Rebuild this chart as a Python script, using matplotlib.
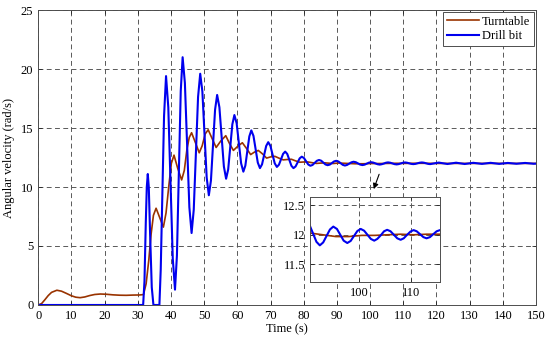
import numpy as np
import matplotlib
matplotlib.use("Agg")
import matplotlib.pyplot as plt

plt.rcParams["font.family"] = "serif"
plt.rcParams["font.serif"] = ["Liberation Serif", "DejaVu Serif"]

# values
turntable_t = [0, 1, 2, 3, 4, 5.6, 7, 8.5, 10, 11.3, 12.6, 14, 15.5, 17, 18.7, 20.5,
               22.5, 24.5, 26.5, 28.5, 30.5, 31.7, 32.5, 33.3, 34.0, 34.7, 35.5,
               36.6, 37.7, 38.5, 39.3, 40.1, 40.9, 42.0, 43.2, 44.0, 44.8, 45.5,
               46.2, 47.3, 48.5, 49.4, 50.3, 51.2, 52.4, 53.6, 55.0, 56.5, 57.6,
               58.8, 60.1, 61.5, 62.8, 64.0, 65.1, 66.3, 67.6, 68.8, 70.0, 71.3,
               72.5, 73.8, 75.0, 76.3, 77.5, 78.8, 80.0, 81.3, 83.8, 86.3, 88.8,
               90.5, 93, 95.5, 98, 100.5, 103, 105.5, 108, 110.5, 113, 115.6, 120,
               130, 140, 150]
turntable_w = [0, 0.12, 0.45, 0.8, 1.07, 1.25, 1.17, 0.98, 0.78, 0.66, 0.62, 0.68,
               0.8, 0.89, 0.93, 0.91, 0.86, 0.83, 0.82, 0.84, 0.85, 0.88, 1.8, 3.8,
               6.0, 7.6, 8.2, 7.4, 6.6, 7.8, 10.0, 12.0, 12.7, 11.6, 10.6, 11.4,
               13.2, 14.2, 14.6, 13.8, 12.9, 13.5, 14.5, 14.85, 14.1, 13.35, 13.9,
               14.35, 13.7, 13.1, 13.45, 13.75, 13.25, 12.75, 12.95, 13.1, 12.8,
               12.45, 12.55, 12.6, 12.45, 12.3, 12.33, 12.35, 12.22, 12.1, 12.12,
               12.12, 12.0, 12.05, 11.99, 12.03, 12.0, 11.97, 11.97, 11.99, 11.99,
               12.0, 12.01, 12.0, 12.01, 12.01, 12.0, 12.0, 12.0, 12.0]

drill_t = [0, 31.6, 32.0, 32.4, 32.7, 33.0, 33.3, 33.7, 34.2, 34.7, 36.5, 36.9,
           37.4, 37.9, 38.5, 39.18, 39.85, 40.53, 41.2, 41.78, 42.35, 42.93, 43.5,
           44.18, 44.85, 45.53, 46.2, 46.85, 47.5, 48.15, 48.8, 49.45, 50.1, 50.75,
           51.4, 52.03, 52.65, 53.28, 53.9, 54.58, 55.25, 55.93, 56.6, 57.23, 57.85,
           58.48, 59.1, 59.78, 60.45, 61.13, 61.8, 62.4, 63.0, 63.6, 64.2, 64.85,
           65.5, 66.15, 66.8, 67.43, 68.05, 68.68, 69.3, 69.95, 70.6, 71.25, 71.9,
           72.53, 73.15, 73.78, 74.4, 75.03, 75.65, 76.28, 76.9, 77.53, 78.15,
           78.78, 79.4, 80.05, 80.7, 81.35, 82.0, 82.65, 83.3, 83.95, 84.6, 85.25,
           85.9, 86.55, 87.2, 87.85, 88.5, 89.15, 89.8, 90.45, 91.1, 91.75, 92.4,
           93.05, 93.7, 94.35, 95.0, 95.7, 96.35, 97.0, 97.7, 98.35, 99.0, 99.65,
           100.3, 100.95, 101.6, 102.25, 102.9, 103.5, 104.15, 104.8, 105.4,
           106.05, 106.7, 107.35, 108.0, 108.6, 109.25, 109.9, 110.5, 111.1,
           111.75, 112.4, 113.0, 113.65, 114.3, 114.95, 115.6, 116.2, 116.85,
           117.5, 118.1, 120.7, 123.3, 125.9, 128.5, 131.1, 133.7, 136.3, 138.9,
           141.5, 144.1, 146.7, 149.3, 150]
drill_w = [0, 0, 2.0, 7.0, 10.0, 11.1, 10.0, 6.0, 1.5, 0, 0, 3.0, 9.5, 16.0, 19.4,
           16.76, 10.35, 3.94, 1.3, 4.18, 11.15, 18.12, 21.0, 18.82, 13.55, 8.28,
           6.1, 8.07, 12.85, 17.63, 19.6, 18.1, 14.45, 10.8, 9.3, 10.54, 13.55,
           16.56, 17.8, 16.76, 14.25, 11.74, 10.7, 11.49, 13.4, 15.31, 16.1, 15.4,
           13.7, 12.0, 11.3, 11.81, 13.05, 14.29, 14.8, 14.33, 13.2, 12.07, 11.6,
           11.92, 12.7, 13.48, 13.8, 13.49, 12.75, 12.01, 11.7, 11.89, 12.35,
           12.81, 13.0, 12.8, 12.3, 11.8, 11.6, 11.74, 12.09, 12.43, 12.57, 12.46,
           12.19, 11.91, 11.8, 11.87, 12.05, 12.22, 12.29, 12.23, 12.07, 11.91,
           11.85, 11.9, 12.035, 12.17, 12.22, 12.16, 12.02, 11.88, 11.82, 11.87,
           11.98, 12.09, 12.14, 12.1, 12.0, 11.9, 11.86, 11.895, 11.98, 12.065,
           12.1, 12.07, 12.0, 11.93, 11.9, 11.93, 11.99, 12.06, 12.085, 12.06,
           12.0, 11.94, 11.915, 11.94, 12.0, 12.055, 12.08, 12.06, 12.01, 11.96,
           11.94, 11.96, 12.01, 12.06, 12.08, 12.06, 12.01, 11.96, 11.94, 12.07,
           11.95, 12.06, 11.95, 12.05, 11.96, 12.05, 11.96, 12.04, 11.97, 12.04,
           11.97, 11.98]

x_ticks = np.arange(0, 151, 10)
y_ticks = np.arange(0, 26, 5)

brown = "#993300"
blue = "#0000ee"
grid_kw = dict(color="0.35", linestyle=(0, (5, 3.5)), linewidth=0.7)


def style_axes(ax):
    ax.tick_params(direction="in", top=True, right=True, length=3,
                   width=0.6, labelsize=9, colors="0.15", labelcolor="black")
    for s in ax.spines.values():
        s.set_color("0.3")
        s.set_linewidth(0.7)
    ax.grid(True, **grid_kw)


fig = plt.figure(figsize=(5.5, 3.41), dpi=100)
ax = fig.add_axes([0.0696, 0.1056, 0.905, 0.865])
ax.plot(turntable_t, turntable_w, color=brown, lw=1.2, label="Turntable")
ax.plot(drill_t, drill_w, color=blue, lw=1.5, label="Drill bit")
ax.set_xlim(0, 150)
ax.set_ylim(0, 25)
ax.set_xticks(x_ticks)
ax.set_yticks(y_ticks)
style_axes(ax)
ax.set_xlabel("Time (s)", fontsize=9, labelpad=1)
ax.set_ylabel("Angular velocity (rad/s)", fontsize=9, labelpad=4)
leg = ax.legend(loc="upper right", fontsize=9, fancybox=False, framealpha=1,
                edgecolor="0.3", handlelength=2.6, handletextpad=0.25,
                borderpad=0.3, labelspacing=0.2, borderaxespad=0.15)
leg.get_frame().set_linewidth(0.7)

ax.annotate("", xy=(100.8, 9.6), xytext=(103.0, 11.3),
            arrowprops=dict(arrowstyle="-|>", color="black", lw=0.8,
                            mutation_scale=8))

ins = fig.add_axes([0.5636, 0.1739, 0.2364, 0.2493])
ins.plot(turntable_t, turntable_w, color=brown, lw=1.2)
ins.plot(drill_t, drill_w, color=blue, lw=1.5)
ins.set_xlim(90.5, 115.6)
ins.set_ylim(11.2, 12.65)
ins.set_xticks([100, 110])
ins.set_yticks([11.5, 12, 12.5])
ins.set_yticklabels(["11.5", "12", "12.5"])
style_axes(ins)

fig.savefig("out.png", dpi=100)
